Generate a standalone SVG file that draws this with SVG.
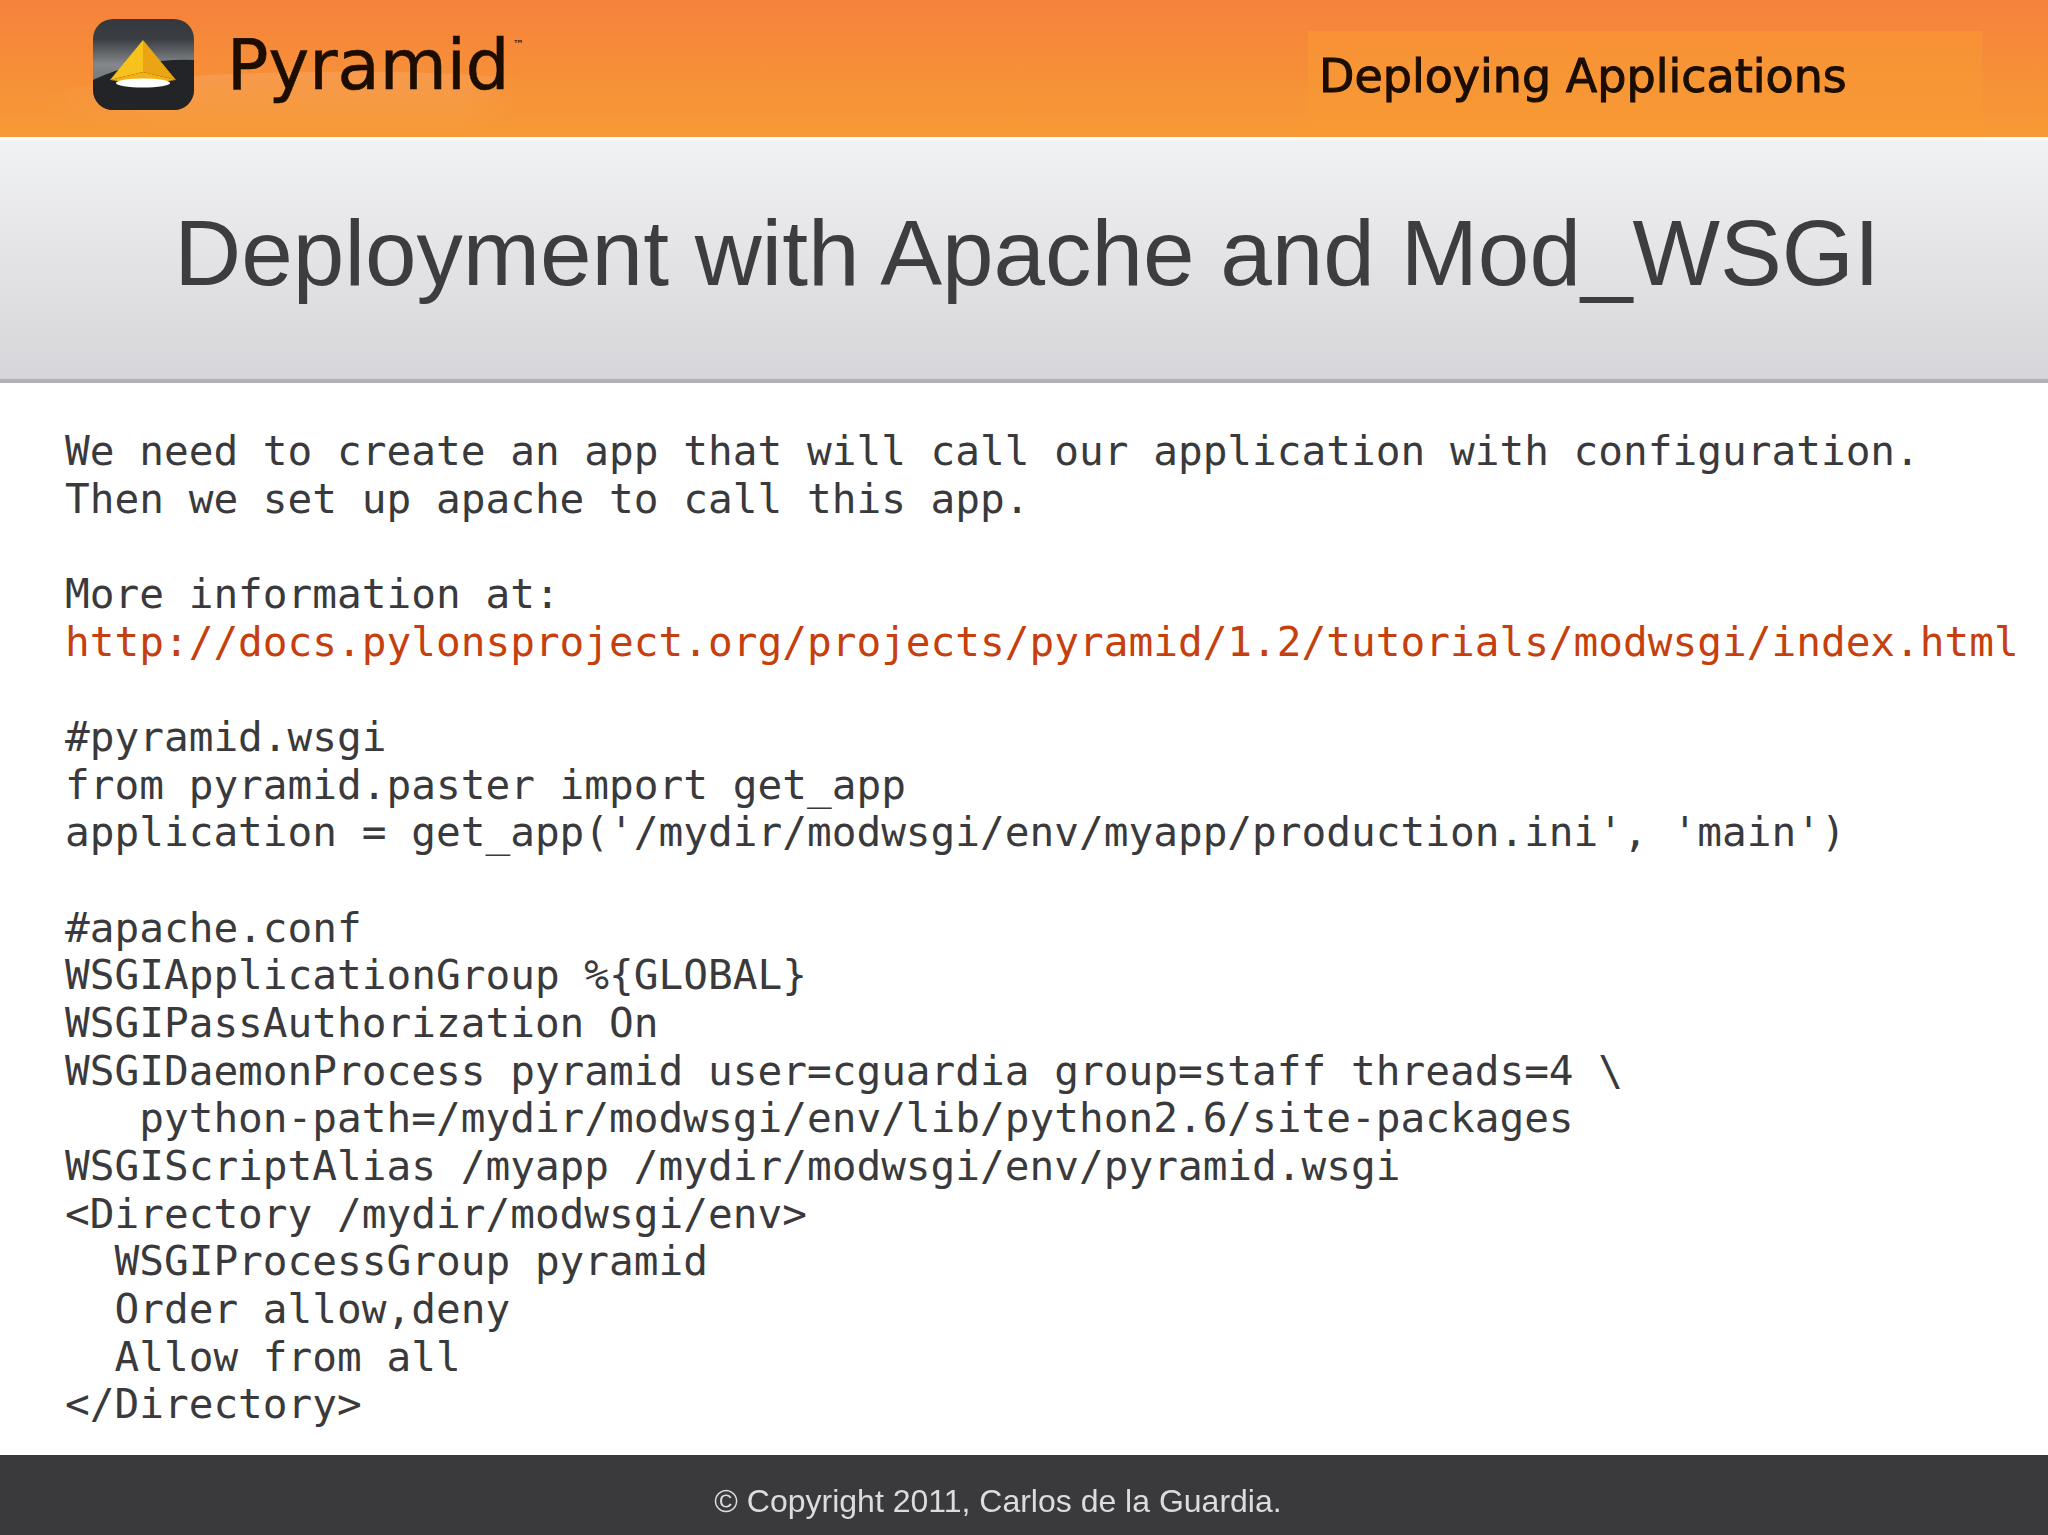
<svg xmlns="http://www.w3.org/2000/svg" width="2048" height="1535" viewBox="0 0 2048 1535">
<defs>
<linearGradient id="hd" x1="0" y1="0" x2="0" y2="1"><stop offset="0" stop-color="#f6823c"/><stop offset="1" stop-color="#f79a35"/></linearGradient>
<linearGradient id="tb" x1="0" y1="0" x2="0" y2="1"><stop offset="0" stop-color="#f1f2f3"/><stop offset="1" stop-color="#d6d5d9"/></linearGradient>
<linearGradient id="ic" x1="0" y1="0" x2="0" y2="1"><stop offset="0" stop-color="#34373b"/><stop offset="0.22" stop-color="#3b3e42"/><stop offset="0.5" stop-color="#85888a"/><stop offset="1" stop-color="#55585b"/></linearGradient>
<linearGradient id="gl" x1="0" y1="0" x2="1" y2="0"><stop offset="0" stop-color="#fff" stop-opacity="0"/><stop offset="0.25" stop-color="#fff" stop-opacity=".2"/><stop offset="0.88" stop-color="#fff" stop-opacity=".2"/><stop offset="1" stop-color="#fff" stop-opacity="0"/></linearGradient>
<linearGradient id="gv" x1="0" y1="0" x2="0" y2="1"><stop offset="0" stop-color="#fff"/><stop offset="0.7" stop-color="#fff" stop-opacity=".35"/><stop offset="1" stop-color="#fff" stop-opacity="0"/></linearGradient>
<mask id="gm"><rect width="600" height="137" fill="url(#gv)"/></mask>
<clipPath id="ico"><rect x="93" y="19" width="101" height="91" rx="20"/></clipPath>
<filter id="b" x="-5%" y="-20%" width="110%" height="140%"><feGaussianBlur stdDeviation=".6"/></filter>
</defs>
<style>
.c{font-family:"DejaVu Sans Mono",monospace;font-size:41.08px;fill:#3a3a3c;white-space:pre}
.l{fill:#c63f0e}
.h{font-family:"DejaVu Sans",sans-serif;fill:#1a0b05;stroke:#1a0b05}
</style>
<rect width="2048" height="137" fill="url(#hd)"/>
<g mask="url(#gm)"><path d="M34 96Q90 80 230 74Q400 68 518 78Q530 110 495 137H60Z" fill="url(#gl)"/></g>
<rect x="1308" y="31" width="674" height="105" fill="#f89a34" opacity=".6"/>
<g id="logo">
<g clip-path="url(#ico)">
<rect x="93" y="19" width="101" height="91" fill="url(#ic)"/>
<path d="M93 80Q140 58 194 60V110H93Z" fill="#232427"/>
</g>
<path d="M143 40L110 80 143 72Z" fill="#f7c21c"/>
<path d="M143 40L176 80 143 72Z" fill="#eca512"/>
<path d="M110 80L143 72 176 80 143 84Z" fill="#f3b116"/>
<ellipse cx="143" cy="83" rx="27" ry="4.5" fill="#fff"/>
<text class="h" x="227" y="89" font-size="68.8" stroke-width=".6" filter="url(#b)">Pyramid</text>
<text x="513" y="48" font-family="DejaVu Sans,sans-serif" font-size="11" font-weight="bold" fill="#3a2a1a">™</text>
</g>
<text class="h" x="1319" y="92" font-size="46" stroke-width="1" filter="url(#b)">Deploying Applications</text>
<rect y="137" width="2048" height="243" fill="url(#tb)"/>
<rect y="137" width="2048" height="3" fill="#fafafa"/>
<rect y="379" width="2048" height="4" fill="#b2b1b4"/>
<text x="1027" y="285" text-anchor="middle" font-family="Liberation Sans,Arial,sans-serif" font-size="92.7" fill="#3d3d40">Deployment with Apache and Mod_WSGI</text>
<text class="c" x="65" y="465">We need to create an app that will call our application with configuration.</text>
<text class="c" x="65" y="513">Then we set up apache to call this app.</text>
<text class="c" x="65" y="608">More information at:</text>
<text class="c l" x="65" y="656">http://docs.pylonsproject.org/projects/pyramid/1.2/tutorials/modwsgi/index.html</text>
<text class="c" x="65" y="751">#pyramid.wsgi</text>
<text class="c" x="65" y="799">from pyramid.paster import get_app</text>
<text class="c" x="65" y="846">application = get_app('/mydir/modwsgi/env/myapp/production.ini', 'main')</text>
<text class="c" x="65" y="942">#apache.conf</text>
<text class="c" x="65" y="989">WSGIApplicationGroup %{GLOBAL}</text>
<text class="c" x="65" y="1037">WSGIPassAuthorization On</text>
<text class="c" x="65" y="1085">WSGIDaemonProcess pyramid user=cguardia group=staff threads=4 \</text>
<text class="c" x="65" y="1132">   python-path=/mydir/modwsgi/env/lib/python2.6/site-packages</text>
<text class="c" x="65" y="1180">WSGIScriptAlias /myapp /mydir/modwsgi/env/pyramid.wsgi</text>
<text class="c" x="65" y="1228">&lt;Directory /mydir/modwsgi/env&gt;</text>
<text class="c" x="65" y="1275">  WSGIProcessGroup pyramid</text>
<text class="c" x="65" y="1323">  Order allow,deny</text>
<text class="c" x="65" y="1371">  Allow from all</text>
<text class="c" x="65" y="1418">&lt;/Directory&gt;</text>
<rect y="1455" width="2048" height="80" fill="#3a3a3c"/>
<text x="998" y="1512" text-anchor="middle" font-family="Liberation Sans,Arial,sans-serif" font-size="32" fill="#dcdcdc" filter="url(#b)">© Copyright 2011, Carlos de la Guardia.</text>
</svg>
